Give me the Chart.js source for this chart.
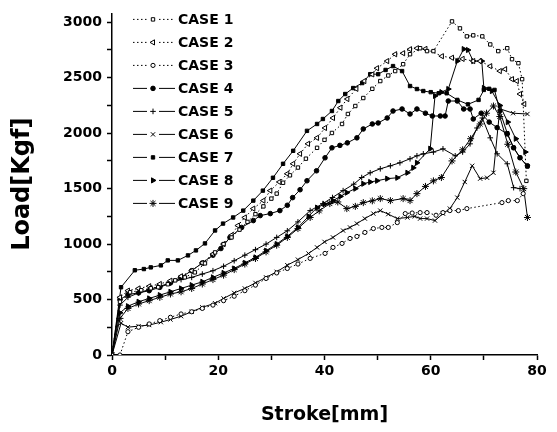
<!DOCTYPE html>
<html>
<head>
<meta charset="utf-8">
<script src="https://cdn.jsdelivr.net/npm/chart.js@4.4.1/dist/chart.umd.min.js"></script>
<style>
  html, body { margin: 0; padding: 0; background: #fff; }
</style>
</head>
<body>
<canvas id="chart" width="557" height="432"></canvas>
<script>
// Stroke [mm] / Load [Kgf], one pair of arrays per case
const caseNames = ['CASE 1', 'CASE 2', 'CASE 3', 'CASE 4', 'CASE 5', 'CASE 6', 'CASE 7', 'CASE 8', 'CASE 9'];

const stroke1 = [0, 1.5, 3.4, 5.5, 7.3, 8.7, 10.5, 11.9, 13.7, 15.6, 17.5, 19.4, 21, 22.5, 24, 25.5, 27, 28.5, 30, 31, 32.2, 33.5, 35, 36.5, 38.6, 40, 41.4, 43.3, 44.4, 45.8, 47.3, 49, 50.5, 52, 53.3, 54.8, 56.1, 58, 59.3, 60.5, 64, 65.5, 66.8, 68, 69.7, 71.2, 72.7, 74.4, 75.3, 76.5, 77.2, 78];
const load1 = [0, 480, 566, 584, 602, 611, 638, 673, 700, 745, 826, 925, 1000, 1060, 1130, 1200, 1270, 1340, 1410, 1455, 1553, 1620, 1690, 1770, 1868, 1940, 2002, 2083, 2173, 2245, 2317, 2400, 2470, 2520, 2560, 2622, 2712, 2766, 2740, 2740, 3008, 2945, 2873, 2882, 2873, 2800, 2740, 2766, 2667, 2631, 2487, 1570];

const stroke2 = [0, 1.5, 3, 5, 7, 9, 11, 13, 15, 17, 19, 21, 22.5, 23.7, 25, 26.6, 28.5, 29.8, 31.5, 33, 34.1, 35.4, 36.9, 38.6, 40.1, 41.6, 43, 44.3, 46, 47.5, 49, 49.9, 51.8, 53.3, 54.8, 56.1, 57.4, 59, 62.1, 64, 66, 68, 69.3, 71.2, 73, 74, 75.3, 76.2, 76.8, 77.6];
const load2 = [0, 520, 580, 600, 620, 640, 670, 710, 760, 830, 910, 1000, 1080, 1167, 1240, 1320, 1392, 1482, 1560, 1634, 1724, 1814, 1904, 1958, 2047, 2137, 2230, 2308, 2400, 2470, 2530, 2586, 2650, 2712, 2721, 2757, 2766, 2760, 2694, 2680, 2670, 2650, 2650, 2604, 2560, 2577, 2487, 2470, 2353, 2263];

const stroke3 = [1.5, 3, 5, 7, 9, 11, 13, 15, 17, 19, 21, 23, 25, 27, 29, 31, 33, 35, 37.3, 40.1, 41.6, 43.3, 44.8, 46.1, 47.6, 49.2, 50.8, 52, 53.7, 55.2, 56.5, 58, 59.3, 61, 62.3, 63.6, 65.2, 66.8, 73.4, 74.6, 76.3, 77.4];
const load3 = [0, 210, 250, 280, 310, 340, 370, 390, 420, 450, 490, 530, 580, 630, 690, 740, 780, 820, 871, 916, 970, 1006, 1051, 1069, 1105, 1140, 1150, 1150, 1194, 1275, 1280, 1284, 1284, 1260, 1284, 1302, 1302, 1320, 1374, 1392, 1392, 1455];

const stroke4 = [0, 1.5, 3, 5, 7, 9, 11, 13, 15, 17, 19, 20.5, 22.2, 24.4, 26.6, 27.9, 29.8, 31.6, 33, 34, 35.4, 36.7, 38.5, 40.1, 41.4, 42.9, 44.3, 46.1, 47.3, 49, 50.1, 51.8, 52.9, 54.6, 56.1, 57.4, 59, 60.3, 61.8, 62.7, 63.3, 65, 66.2, 67.4, 68, 69.5, 71, 72.5, 74.4, 75.6, 76.8, 78.2];
const load4 = [0, 500, 545, 560, 580, 610, 650, 700, 760, 830, 900, 960, 1060, 1150, 1212, 1257, 1275, 1302, 1350, 1419, 1490, 1571, 1661, 1778, 1868, 1890, 1913, 1958, 2038, 2083, 2092, 2137, 2200, 2218, 2173, 2218, 2180, 2155, 2155, 2155, 2290, 2290, 2218, 2218, 2128, 2180, 2100, 2050, 1993, 1868, 1778, 1706];

const stroke5 = [0, 1.5, 3, 5, 7, 9, 11, 13, 15, 17, 19, 21, 23, 25, 27, 29, 31, 33, 35, 37.3, 39.7, 41.5, 43.5, 45.5, 47, 48.6, 50.5, 52.4, 54.2, 56.1, 57.4, 58.6, 60.5, 62.3, 64.6, 66, 67.4, 68.7, 69.7, 71.2, 72.5, 74.4, 75.6, 76.8];
const load5 = [0, 450, 520, 560, 590, 620, 650, 680, 700, 730, 760, 800, 850, 900, 950, 1000, 1060, 1120, 1200, 1302, 1365, 1420, 1482, 1540, 1600, 1643, 1679, 1706, 1733, 1769, 1796, 1814, 1830, 1859, 1796, 1830, 1904, 2047, 2137, 1958, 1814, 1724, 1509, 1500];

const stroke6 = [0, 1.7, 3, 5, 7, 9.2, 11, 13, 15, 17, 19.4, 21, 23, 25, 27, 29, 31, 33, 35, 37, 38.6, 40, 41.6, 43.5, 44.8, 46.1, 47.6, 49.2, 50.5, 52, 53.7, 55.6, 57, 58, 59.3, 60.8, 62.3, 63.6, 65, 66.4, 67.8, 69.3, 70.6, 71.8, 73, 75.5, 78.2];
const load6 = [0, 287, 251, 260, 270, 296, 320, 350, 390, 430, 467, 510, 560, 600, 650, 700, 750, 810, 860, 915, 970, 1020, 1060, 1122, 1150, 1185, 1230, 1275, 1302, 1270, 1230, 1240, 1250, 1230, 1230, 1212, 1275, 1320, 1419, 1560, 1706, 1590, 1598, 1643, 2220, 2180, 2173];

const stroke7 = [0, 1.7, 4.3, 6, 7.3, 9.2, 10.5, 12.4, 14.3, 15.8, 17.5, 19.4, 20.9, 22.8, 24.7, 26.6, 28.4, 30.3, 32.2, 34.1, 36.7, 38.6, 39.7, 41.4, 42.6, 43.9, 45.4, 47.1, 48.6, 50.1, 51.5, 52.9, 54.6, 56.1, 57.4, 58.6, 60, 61.5, 63, 65, 67, 69, 70, 71, 72, 73, 74.4, 75.6, 76.8, 78.2];
const load7 = [0, 611, 764, 775, 790, 808, 853, 853, 898, 943, 1006, 1123, 1185, 1240, 1302, 1392, 1482, 1598, 1724, 1841, 2021, 2083, 2128, 2200, 2290, 2353, 2407, 2452, 2532, 2532, 2570, 2605, 2560, 2425, 2398, 2380, 2370, 2360, 2360, 2300, 2260, 2300, 2390, 2400, 2390, 2200, 2000, 1870, 1780, 1700];

const stroke8 = [0, 1.5, 3, 5, 7, 9, 11, 13, 15, 17, 19, 21, 23, 25, 27, 29, 31, 33, 35, 37, 38.6, 40, 41.6, 43, 44.2, 45.8, 47.3, 48.6, 49.9, 51.8, 53.7, 55.6, 56.7, 57.4, 59.9, 60.8, 62, 63.3, 65, 66.2, 67, 68, 69.6, 70, 71.5, 73, 74.5, 76, 77.8];
const load8 = [0, 380, 440, 480, 510, 540, 570, 600, 630, 660, 700, 740, 780, 830, 880, 940, 1000, 1070, 1150, 1250, 1329, 1360, 1392, 1430, 1464, 1500, 1544, 1560, 1571, 1590, 1598, 1643, 1688, 1733, 1860, 2336, 2370, 2398, 2650, 2758, 2750, 2650, 2650, 2408, 2380, 2250, 2100, 1950, 1830];

const stroke9 = [0, 1.5, 3, 5, 7, 9, 11, 13, 15, 17, 19, 21, 23, 25, 27, 29, 31, 33, 35, 37.3, 39, 41, 42.5, 44.2, 45.8, 47.3, 49, 50.5, 52.4, 54.8, 56.1, 57.4, 59, 60.5, 62, 64, 66, 67.5, 69.3, 70.5, 71.8, 73, 74.5, 76, 77.5, 78.2];
const load9 = [0, 330, 420, 460, 490, 520, 550, 570, 600, 640, 680, 720, 770, 820, 870, 930, 990, 1060, 1140, 1240, 1300, 1365, 1380, 1320, 1340, 1374, 1390, 1410, 1392, 1410, 1392, 1455, 1520, 1570, 1600, 1750, 1850, 1950, 2083, 2180, 2245, 2150, 1900, 1650, 1500, 1240];

const strokes = [stroke1, stroke2, stroke3, stroke4, stroke5, stroke6, stroke7, stroke8, stroke9];
const loads = [load1, load2, load3, load4, load5, load6, load7, load8, load9];

// marker / line look of each case
const markers = [
  { style: 'rect', rot: 0, r: 2.4, fill: '#fff', dash: [1.5, 2.5] },
  { style: 'triangle', rot: -90, r: 3, fill: '#fff', dash: [1.5, 2.5] },
  { style: 'circle', rot: 0, r: 2.1, fill: '#fff', dash: [1.5, 2.5] },
  { style: 'circle', rot: 0, r: 2.3, fill: '#000', dash: [] },
  { style: 'cross', rot: 0, r: 2.8, fill: '#000', dash: [] },
  { style: 'crossRot', rot: 0, r: 3, fill: '#000', dash: [] },
  { style: 'rect', rot: 0, r: 2.4, fill: '#000', dash: [] },
  { style: 'triangle', rot: 90, r: 3, fill: '#000', dash: [] },
  { style: 'star', rot: 0, r: 3.5, fill: '#000', dash: [] }
];

const FONT = '"DejaVu Sans", sans-serif';

const datasets = caseNames.map((name, i) => ({
  label: name,
  data: strokes[i].map((x, j) => ({ x: x, y: loads[i][j] })),
  borderColor: '#000',
  borderWidth: 1,
  borderDash: markers[i].dash,
  pointStyle: markers[i].style,
  pointRotation: markers[i].rot,
  pointRadius: markers[i].r,
  pointBorderWidth: 1,
  pointBorderColor: '#000',
  pointBackgroundColor: markers[i].fill,
  tension: 0,
  fill: false
}));

// legend drawn inside the plot, line - marker - line, like the original
const caseLegend = {
  id: 'caseLegend',
  afterDraw(chart) {
    const ctx = chart.ctx;
    const left = chart.chartArea.left;
    const top = chart.chartArea.top;
    ctx.save();
    chart.data.datasets.forEach((ds, i) => {
      const y = top + 6 + i * 23;
      const mx = left + 41;
      ctx.strokeStyle = '#000';
      ctx.lineWidth = 1;
      ctx.setLineDash(ds.borderDash);
      ctx.beginPath();
      ctx.moveTo(left + 21, y); ctx.lineTo(mx - 6, y);
      ctx.moveTo(mx + 6, y); ctx.lineTo(left + 63, y);
      ctx.stroke();
      ctx.setLineDash([]);
      ctx.fillStyle = ds.pointBackgroundColor;
      ctx.strokeStyle = '#000';
      Chart.helpers.drawPoint(ctx, {
        pointStyle: ds.pointStyle, rotation: ds.pointRotation,
        radius: ds.pointRadius, borderWidth: 1
      }, mx, y);
      ctx.fillStyle = '#000';
      ctx.font = 'bold 14px ' + FONT;
      ctx.textBaseline = 'middle';
      ctx.textAlign = 'left';
      ctx.fillText(ds.label, left + 66, y + 1);
    });
    ctx.restore();
  }
};

new Chart(document.getElementById('chart'), {
  type: 'line',
  data: { datasets: datasets },
  plugins: [caseLegend],
  options: {
    responsive: false,
    animation: false,
    devicePixelRatio: 1,
    layout: { padding: { left: 0, right: 20, top: 12, bottom: 0 } },
    plugins: { legend: { display: false }, tooltip: { enabled: false } },
    scales: {
      x: {
        type: 'linear',
        min: 0, max: 80,
        afterFit: (s) => { s.height = 77; },
        border: { color: '#000', width: 1.5 },
        grid: { drawOnChartArea: false, drawTicks: true, tickLength: 5, color: '#000', tickWidth: 1.5 },
        ticks: {
          stepSize: 10,
          padding: 3,
          color: '#000',
          font: { family: FONT, size: 14, weight: 'bold' },
          callback: (v) => (v % 20 === 0 ? v : '')
        },
        title: {
          display: true,
          text: 'Stroke[mm]',
          color: '#000',
          font: { family: FONT, size: 19, weight: 'bold' },
          padding: { top: 0, bottom: 6 }
        }
      },
      y: {
        min: 0, max: 3080,
        afterFit: (s) => { s.width = 112; },
        border: { color: '#000', width: 1.5 },
        grid: { drawOnChartArea: false, drawTicks: true, tickLength: 5, color: '#000', tickWidth: 1.5 },
        ticks: {
          stepSize: 250,
          includeBounds: false,
          padding: 5,
          color: '#000',
          font: { family: FONT, size: 14, weight: 'bold' },
          callback: (v) => (v % 500 === 0 ? v : '')
        },
        title: {
          display: true,
          text: 'Load[Kgf]',
          color: '#000',
          font: { family: FONT, size: 24, weight: 'bold' },
          padding: { top: 8, bottom: 0 }
        }
      }
    }
  }
});
</script>
</body>
</html>
